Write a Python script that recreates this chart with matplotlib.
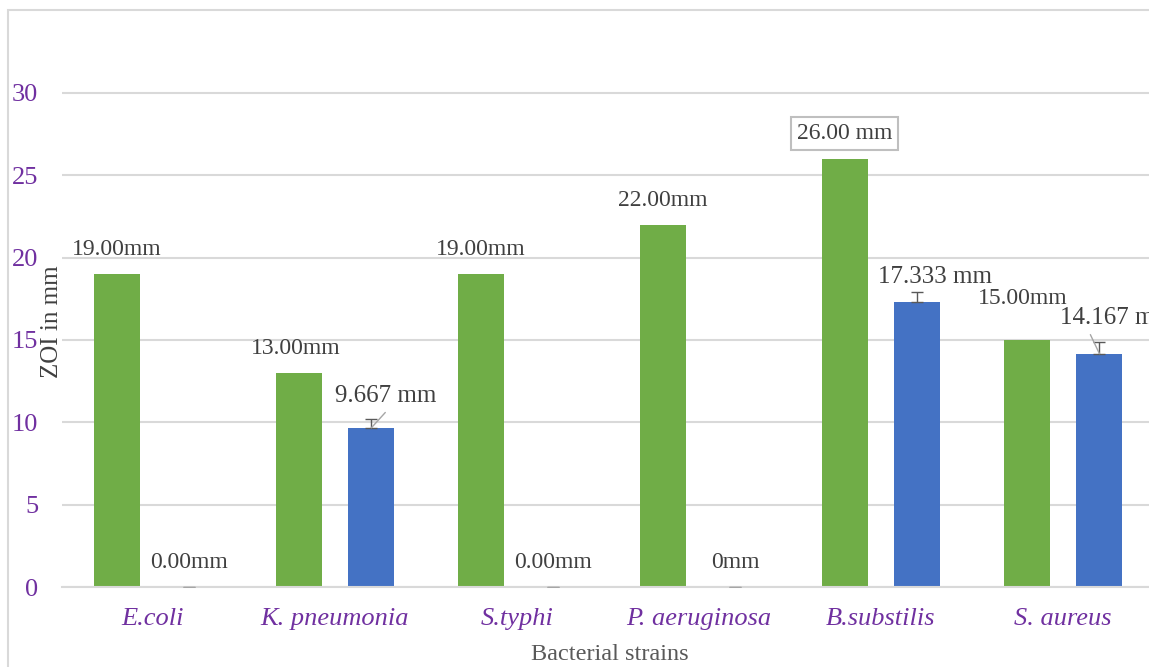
import matplotlib
matplotlib.use("Agg")
import matplotlib.pyplot as plt
from matplotlib.patches import Rectangle
import numpy as np

categories = ["E.coli", "K. pneumonia", "S.typhi", "P. aeruginosa", "B.substilis", "S. aureus"]
green_values = [19.0, 13.0, 19.0, 22.0, 26.0, 15.0]
blue_values = [0.0, 9.667, 0.0, 0.0, 17.333, 14.167]
blue_errors = [0.0, 0.55, 0.0, 0.0, 0.55, 0.7]
green_labels = ["19.00mm", "13.00mm", "19.00mm", "22.00mm", "26.00 mm", "15.00mm"]
blue_labels = ["0.00mm", "9.667 mm", "0.00mm", "0mm", "17.333 mm", "14.167 mm"]
y_ticks = [0, 5, 10, 15, 20, 25, 30]

GREEN = "#70AD47"
BLUE = "#4472C4"
PURPLE = "#7030A0"
TXT = "#404040"
GRID = "#D9D9D9"

plt.rcParams["font.family"] = ["Liberation Serif", "DejaVu Serif"]

W, H = 1149, 667
fig = plt.figure(figsize=(W / 100, H / 100), dpi=100)
ax_left, ax_right, ax_top, ax_bottom = 62, 1154, 10.5, 587
ax = fig.add_axes([ax_left / W, (H - ax_bottom) / H, (ax_right - ax_left) / W, (ax_bottom - ax_top) / H])

x = np.arange(len(categories))
bw = 0.253
off = 0.2
ax.bar(x - off, green_values, bw, color=GREEN, zorder=2)
ax.bar(x + off, blue_values, bw, color=BLUE, zorder=2)
err_colors = ["#595959" if e > 0 else "#A6A6A6" for e in blue_errors]
for i in range(len(categories)):
    ax.errorbar(x[i] + off, blue_values[i], yerr=[[0], [blue_errors[i]]], fmt="none",
                ecolor=err_colors[i], elinewidth=1, capsize=4.5, capthick=1, zorder=3)

ax.set_xlim(-0.5, len(categories) - 0.5)
ax.set_ylim(0, 35)
ax.set_yticks(y_ticks)
ax.yaxis.grid(True, color=GRID, linewidth=1.5, zorder=0)
ax.set_axisbelow(True)
for s in ax.spines.values():
    s.set_visible(False)
ax.spines["bottom"].set_visible(True)
ax.spines["bottom"].set_color(GRID)
ax.spines["bottom"].set_linewidth(1.5)
ax.tick_params(axis="both", length=0)
ax.tick_params(axis="y", labelsize=19, labelcolor=PURPLE, pad=17)
ax.tick_params(axis="x", labelsize=19, labelcolor=PURPLE, pad=15)
ax.set_xticks(x)
ax.set_xticklabels(categories, style="italic")

# label offsets in pixels (dx from bar center, dy above bar top)
g_off = [(0, 25), (-3, 24), (0, 25), (0, 24), (0, 25), (-4, 41)]
b_off = [(0, 25), (14, 32), (0, 25), (0, 25), (18, 25), (18, 36)]
for i in range(len(categories)):
    box = None
    if i == 4:
        box = dict(boxstyle="square,pad=0.25", fc="white", ec="#BFBFBF", lw=1.5)
    ax.annotate(green_labels[i], (x[i] - off, green_values[i]),
                xytext=(g_off[i][0] * 0.72, g_off[i][1] * 0.72), textcoords="offset points",
                ha="center", va="center", fontsize=17, color=TXT, zorder=5, bbox=box)
    ax.annotate(blue_labels[i], (x[i] + off, blue_values[i]),
                xytext=(b_off[i][0] * 0.72, b_off[i][1] * 0.72), textcoords="offset points",
                ha="center", va="center", fontsize=18 if blue_values[i] > 0 else 17, color=TXT, zorder=5)

# leader lines
ax.annotate("", (x[1] + off, blue_values[1]), xytext=(10, 11), textcoords="offset points",
            arrowprops=dict(arrowstyle="-", color="#A6A6A6", lw=1, shrinkA=0, shrinkB=0))
ax.annotate("", (x[5] + off, blue_values[5]), xytext=(-6.5, 13.7), textcoords="offset points",
            arrowprops=dict(arrowstyle="-", color="#A6A6A6", lw=1, shrinkA=0, shrinkB=0))

fig.text(52 / W, 1 - 322 / H, "ZOI in mm", rotation=90, ha="center", va="center", fontsize=18, color=TXT)
fig.text(610 / W, 1 - 655 / H, "Bacterial strains", ha="center", va="center", fontsize=17.5, color="#595959")

fig.patches.append(Rectangle((8 / W, -0.05), 1.1, 1 - 10 / H + 0.05, transform=fig.transFigure,
                             fill=False, ec="#D9D9D9", lw=1.5, zorder=0))

fig.savefig("out.png", dpi=100)
